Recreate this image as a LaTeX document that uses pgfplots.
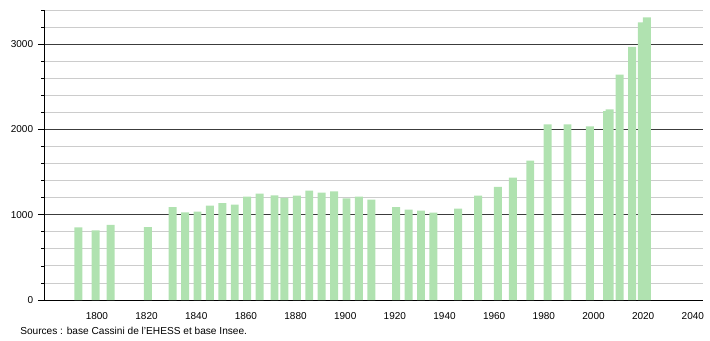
\documentclass[border=0pt]{standalone}
\usepackage{fontspec}
\setmainfont{Liberation Sans}
\usepackage{pgfplots}
\pgfplotsset{compat=1.18}
\definecolor{barg}{RGB}{176,226,176}
\definecolor{majg}{RGB}{60,60,60}
\definecolor{ming}{RGB}{204,204,204}
\begin{document}
\begin{tikzpicture}[x=0.75pt,y=0.75pt]
\path[use as bounding box] (-44.5,-40) rectangle (665.5,300);
\begin{axis}[
  at={(0,0)}, anchor=south west,
  scale only axis,
  width=493.875pt, height=217.5pt,
  xmin=1778.9, xmax=2044.1,
  ymin=0, ymax=3400,
  axis x line*=bottom, axis y line*=left,
  axis line style={black, line width=0.6pt},
  xtick={1800,1820,...,2040},
  ytick={0,1000,2000,3000},
  minor ytick={200,400,...,3400},
  xticklabel style={font=\fontsize{7.5pt}{9pt}\selectfont, yshift=-1pt},
  yticklabel style={font=\fontsize{7.5pt}{9pt}\selectfont},
  /pgf/number format/assume math mode=true,
  /pgf/number format/1000 sep={},
  major x tick style={draw=none},
  tick align=outside,
  major tick length=5pt, minor tick length=2.5pt,
  major y tick style={black, line width=0.6pt},
  minor y tick style={black, line width=0.5pt},
  ymajorgrids, yminorgrids,
  major grid style={majg, line width=0.6pt},
  minor grid style={ming, line width=0.6pt},
  axis on top=false,
  ybar, bar width=3.2, bar shift=-0.9pt,
  clip=false,
]
\addplot[fill=barg, draw=none] coordinates {
(1793,851) (1800,815) (1806,882) (1821,855) (1831,1090) (1836,1027)
(1841,1035) (1846,1106) (1851,1137) (1856,1118) (1861,1212) (1866,1247)
(1872,1226) (1876,1196) (1881,1224) (1886,1282) (1891,1259) (1896,1275)
(1901,1192) (1906,1212) (1911,1176) (1921,1090) (1926,1059) (1931,1047)
(1936,1024) (1946,1071) (1954,1224) (1962,1325) (1968,1435) (1975,1635)
(1982,2059) (1990,2059) (1999,2035) (2006,2215) (2007,2235) (2011,2643)
(2016,2969) (2020,3255) (2022,3314)
};
\end{axis}
\node[anchor=base west, inner sep=0pt, font=\fontsize{7.6pt}{9pt}\selectfont] at (-24.5,-34) {Sources : base Cassini de l'EHESS et base Insee.};
\end{tikzpicture}
\end{document}
